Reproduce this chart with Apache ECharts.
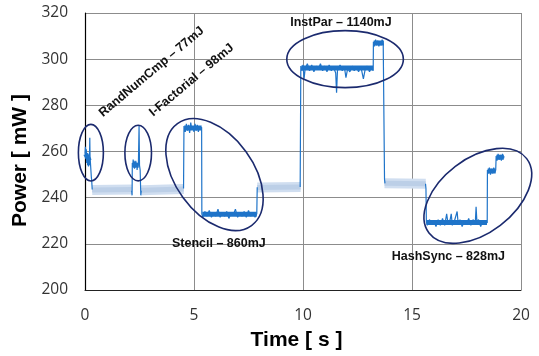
<!DOCTYPE html>
<html>
<head>
<meta charset="utf-8">
<script src="https://cdn.jsdelivr.net/npm/echarts@6/dist/echarts.min.js"></script>
<style>
  html, body { margin: 0; background: #fff; }
  #chart { width: 539px; height: 356px; }
</style>
</head>
<body>
<div id="chart"></div>
<script>
// axis ticks
const xTicks = [0, 5, 10, 15, 20];
const yTicks = [200, 220, 240, 260, 280, 300, 320];

// idle periods (light band), [time s, power mW]
const idleSegments = [
  [[0.33, 243.3], [2.16, 243.5]],
  [[2.58, 243.2], [4.53, 243.8]],
  [[7.9, 244.4], [9.89, 244.6]],
  [[13.74, 246.2], [15.63, 246.0]]
];

// active traces, [time s, power mW]
const randNumCmp = [[0.0, 259], [0.02, 262], [0.04, 257], [0.06, 261], [0.08, 255], [0.1, 259], [0.12, 254],
  [0.14, 257], [0.16, 253.5], [0.18, 256], [0.2, 254], [0.22, 266], [0.23, 258], [0.25, 255], [0.27, 252],
  [0.29, 249], [0.31, 247], [0.33, 243.5]];

const iFactorial = [[2.14, 243], [2.16, 241], [2.17, 255], [2.19, 253.5], [2.21, 256.5], [2.23, 253], [2.25, 256],
  [2.27, 252.5], [2.29, 255.5], [2.31, 253], [2.33, 256], [2.35, 253.5], [2.37, 255], [2.39, 252], [2.41, 254.5],
  [2.43, 253], [2.45, 255], [2.48, 271], [2.5, 254], [2.53, 252], [2.56, 241], [2.58, 243]];

const stencil = [[4.52, 244], [4.54, 271], [4.6, 268.5], [4.65, 272], [4.7, 269], [4.75, 271.5], [4.8, 268],
  [4.85, 272.5], [4.9, 269.5], [4.95, 271], [5.0, 268.5], [5.05, 272], [5.1, 269], [5.15, 271.5], [5.2, 268.5],
  [5.25, 271], [5.3, 269.5], [5.35, 270.5], [5.36, 233], [5.4, 231.5], [5.5, 234], [5.6, 232], [5.7, 234.5],
  [5.8, 231.5], [5.9, 233.5], [6.0, 232], [6.1, 235], [6.2, 231.5], [6.3, 233.5], [6.4, 232], [6.5, 234],
  [6.6, 231], [6.7, 233.5], [6.8, 232.5], [6.9, 235], [7.0, 231.5], [7.1, 233.5], [7.2, 232], [7.3, 234],
  [7.4, 231.5], [7.5, 234.5], [7.6, 232], [7.7, 233.5], [7.8, 231.5], [7.88, 233], [7.9, 244.5]];

const instPar = [[9.87, 244.6], [9.9, 297], [9.95, 295], [10.0, 297.5], [10.05, 291.5], [10.1, 296], [10.2, 298],
  [10.3, 295], [10.4, 297.5], [10.5, 294.5], [10.6, 297], [10.7, 295.5], [10.8, 298], [10.9, 295], [11.0, 297],
  [11.1, 294.5], [11.2, 297.5], [11.3, 295], [11.4, 296.5], [11.5, 294], [11.54, 285.5], [11.58, 295],
  [11.7, 297.5], [11.8, 295], [11.9, 296.5], [11.97, 292], [12.05, 296], [12.15, 294.5], [12.25, 297],
  [12.35, 295], [12.45, 296.5], [12.55, 294.5], [12.65, 297], [12.77, 291.5], [12.85, 295.5], [12.95, 297],
  [13.05, 294.5], [13.15, 296.5], [13.22, 295], [13.23, 307.5], [13.28, 305.5], [13.33, 308.5], [13.38, 306],
  [13.43, 308], [13.48, 305.5], [13.53, 307.5], [13.58, 306], [13.63, 308.5], [13.68, 306.5], [13.72, 307],
  [13.74, 248], [13.76, 246.2]];

const hashSync = [[15.62, 246], [15.64, 244], [15.66, 229.5], [15.7, 228], [15.8, 230.5], [15.9, 228.5],
  [16.0, 230], [16.1, 227.5], [16.2, 230.5], [16.3, 228], [16.4, 231], [16.5, 228], [16.59, 233], [16.65, 229],
  [16.75, 230.5], [16.8, 233], [16.85, 228], [16.95, 230], [17.07, 234], [17.12, 228.5], [17.2, 230.5],
  [17.3, 227.5], [17.4, 230], [17.5, 228.5], [17.6, 231], [17.7, 228], [17.8, 230.5], [17.9, 228.5],
  [17.94, 236], [17.98, 229], [18.05, 230.5], [18.15, 227.5], [18.25, 230], [18.35, 228.5], [18.43, 230],
  [18.45, 229], [18.46, 252], [18.5, 250.5], [18.55, 253], [18.6, 250], [18.65, 252.5], [18.7, 250.5],
  [18.75, 253], [18.8, 251], [18.84, 252], [18.86, 258], [18.9, 256], [18.95, 259], [19.0, 256.5],
  [19.05, 258.5], [19.1, 256], [19.15, 259], [19.2, 257], [19.22, 258]];

// dense core of each phase
const phaseLevels = [
  [[0.03, 259], [0.2, 256]],
  [[2.18, 254.5], [2.46, 254]],
  [[4.55, 270.2], [5.35, 270.2]],
  [[5.38, 232.8], [7.88, 232.8]],
  [[9.92, 296.2], [13.22, 296.2]],
  [[13.24, 307], [13.71, 307]],
  [[15.67, 229.2], [18.44, 229.2]],
  [[18.47, 251.6], [18.84, 251.6]],
  [[18.87, 257.5], [19.21, 257.5]]
];

// annotations
const labelTexts = ["RandNumCmp – 77mJ", "I-Factorial – 98mJ", "Stencil – 860mJ", "InstPar – 1140mJ", "HashSync – 828mJ"];
const labelAt = [[3.05, 294.5], [4.89, 290.9], [6.14, 220.3], [11.74, 315.8], [16.67, 214.5]];
const labelRotate = [40, 40, 0, 0, 0];
const ellipseAt = [[0.27, 259.5], [2.44, 259.3], [5.94, 250], [11.93, 300], [18.02, 240.8]];
const ellipseRadii = [[12.5, 28.3], [13.3, 27.8], [63, 39], [58.3, 28.5], [61.4, 37.1]];
const ellipseRotate = [0, 0, -54, 0, 37.3];

const traceColor = "#1f74c9";
const idleColor = "#d0def0";
const idleCore = "#bccfe7";
const ringColor = "#1b2a6e";
const font = "'Liberation Sans', Arial, sans-serif";

const chart = echarts.init(document.getElementById("chart"), null, { renderer: "canvas" });

const series = [];
idleSegments.forEach((seg) => {
  series.push({ type: "line", data: seg, showSymbol: false, z: 1,
    lineStyle: { color: idleColor, width: 10, cap: "butt" } });
  series.push({ type: "line", data: seg, showSymbol: false, z: 1,
    lineStyle: { color: idleCore, width: 5, cap: "butt" } });
});
phaseLevels.forEach((seg) => {
  series.push({ type: "line", data: seg, showSymbol: false, z: 2,
    lineStyle: { color: traceColor, width: 5, cap: "butt" } });
});
[randNumCmp, iFactorial, stencil, instPar, hashSync].forEach((seg) => {
  series.push({ type: "line", data: seg, showSymbol: false, z: 3,
    lineStyle: { color: traceColor, width: 1.2 } });
});

chart.setOption({
  animation: false,
  grid: { left: 85, right: 18, top: 13, bottom: 63 },
  xAxis: {
    type: "value",
    min: xTicks[0],
    max: xTicks[xTicks.length - 1],
    interval: xTicks[1] - xTicks[0],
    name: "Time [ s ]",
    nameLocation: "middle",
    nameGap: 40,
    nameTextStyle: { fontFamily: font, fontWeight: "bold", fontSize: 21, color: "#000", padding: [0, 13, 0, 0] },
    axisLine: { lineStyle: { color: "#222", width: 1 } },
    axisTick: { show: false },
    axisLabel: { fontFamily: "'Open Sans', sans-serif", fontSize: 15.5, color: "#333", margin: 18 },
    splitLine: { lineStyle: { color: "#8c8c8c", width: 1 } }
  },
  yAxis: {
    type: "value",
    min: yTicks[0],
    max: yTicks[yTicks.length - 1],
    interval: yTicks[1] - yTicks[0],
    name: "Power [ mW ]",
    nameLocation: "middle",
    nameGap: 46,
    nameTextStyle: { fontFamily: font, fontWeight: "bold", fontSize: 21, color: "#000", padding: [0, 18, 0, 0] },
    axisLine: { show: true, lineStyle: { color: "#000", width: 1.2 } },
    axisTick: { show: false },
    axisLabel: { fontFamily: "'Open Sans', sans-serif", fontSize: 15.5, color: "#333", margin: 17 },
    splitLine: { lineStyle: { color: "#8c8c8c", width: 1 } }
  },
  series: series
});

// place the rings and labels from data coordinates
const graphics = [];
ellipseAt.forEach((p, i) => {
  const px = chart.convertToPixel({ gridIndex: 0 }, p);
  graphics.push({
    type: "ellipse", x: px[0], y: px[1], rotation: ellipseRotate[i] * Math.PI / 180, z: 10,
    shape: { cx: 0, cy: 0, rx: ellipseRadii[i][0], ry: ellipseRadii[i][1] },
    style: { fill: "none", stroke: ringColor, lineWidth: 1.6 }
  });
});
labelTexts.forEach((t, i) => {
  const px = chart.convertToPixel({ gridIndex: 0 }, labelAt[i]);
  graphics.push({
    type: "text", x: px[0], y: px[1], rotation: labelRotate[i] * Math.PI / 180, z: 11,
    style: { text: t, fontFamily: font, fontWeight: "bold", fontSize: 12.5, fill: "#111",
      align: "center", verticalAlign: "middle" }
  });
});
chart.setOption({ graphic: graphics });
</script>
</body>
</html>
